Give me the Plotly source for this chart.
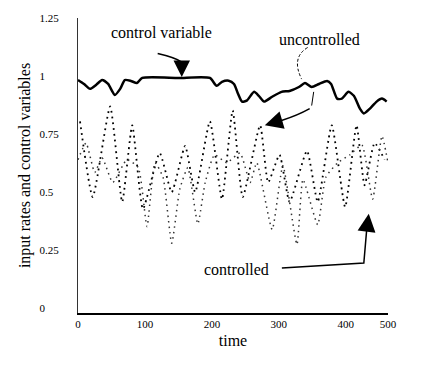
import plotly.graph_objects as go

# ---------------- data ----------------
control_t = [0, 9, 18, 27, 36, 45, 55, 63, 70, 79, 88, 96, 150, 197, 207, 215, 225, 233, 239,
             245, 252, 263, 270, 278, 290, 304, 316, 330, 339, 349, 360, 372, 378, 387, 394,
             404, 412, 421, 427, 436, 446, 454, 461]
control_v = [0.983, 0.966, 0.945, 0.962, 0.983, 0.966, 0.919, 0.945, 0.983, 0.979, 0.970, 0.992,
             0.992, 0.992, 0.958, 0.975, 0.980, 0.966, 0.924, 0.890, 0.894, 0.932, 0.915, 0.890,
             0.911, 0.932, 0.936, 0.953, 0.970, 0.953, 0.966, 0.979, 0.966, 0.903, 0.903, 0.932,
             0.915, 0.860, 0.839, 0.860, 0.890, 0.903, 0.890]

uncontrolled_t = [3, 22, 48, 66, 81, 97, 122, 140, 160, 175, 197, 215, 231, 246, 272, 284, 301,
                  316, 342, 358, 379, 399, 416, 428, 443, 458]
uncontrolled_v = [0.805, 0.479, 0.869, 0.458, 0.788, 0.428, 0.669, 0.500, 0.699, 0.500, 0.805,
                  0.470, 0.852, 0.479, 0.788, 0.542, 0.661, 0.458, 0.678, 0.458, 0.788, 0.436,
                  0.788, 0.530, 0.712, 0.640]

controlled_t = [0, 12, 25, 36, 52, 73, 90, 103, 115, 127, 140, 152, 164, 179, 190, 204, 222, 242,
                257, 267, 290, 306, 327, 336, 358, 370, 388, 406, 424, 440, 454, 463]
controlled_v = [0.640, 0.712, 0.585, 0.648, 0.542, 0.640, 0.606, 0.352, 0.627, 0.564, 0.280,
                0.513, 0.606, 0.364, 0.542, 0.661, 0.627, 0.669, 0.542, 0.627, 0.339, 0.614,
                0.275, 0.555, 0.360, 0.564, 0.627, 0.661, 0.703, 0.470, 0.742, 0.627]

x_tick_positions = [0, 100, 200, 300, 400, 463]
x_tick_labels = ["0", "100", "200", "300", "400", "500"]
y_tick_values = [0, 0.25, 0.5, 0.75, 1, 1.25]
y_tick_labels = ["0\u2008\u2007\u2007", "0.25", "0.5\u2007", "0.75", "1\u2008\u2007\u2007", "1.25"]

SERIF = "Liberation Serif"

fig = go.Figure()
fig.add_trace(go.Scatter(x=uncontrolled_t, y=uncontrolled_v, mode="lines", name="uncontrolled",
                         line=dict(color="black", width=1.8, dash="1.8px,4px",
                                   shape="spline", smoothing=0.5)))
fig.add_trace(go.Scatter(x=controlled_t, y=controlled_v, mode="lines", name="controlled",
                         line=dict(color="#333", width=1.5, dash="1.5px,4px",
                                   shape="spline", smoothing=0.5)))
fig.add_trace(go.Scatter(x=control_t, y=control_v, mode="lines", name="control variable",
                         line=dict(color="black", width=2.5, shape="spline", smoothing=0.6)))

# labels
fig.add_annotation(x=124, y=1.186, text="control variable", showarrow=False,
                   font=dict(family=SERIF, size=16, color="black"))
fig.add_annotation(x=361, y=1.157, text="uncontrolled", showarrow=False,
                   font=dict(family=SERIF, size=16, color="black"))
fig.add_annotation(x=236, y=0.169, text="controlled", showarrow=False,
                   font=dict(family=SERIF, size=16, color="black"))

# control variable arrow
fig.add_shape(type="path", path="M 119,1.097 Q 145,1.080 155,1.06",
              line=dict(color="black", width=1.5))
fig.add_annotation(x=155, y=0.996, ax=0, ay=-16, text="", showarrow=True,
                   arrowhead=2, arrowsize=2.2, arrowwidth=1.5, arrowcolor="black")

# uncontrolled leader + arrow
fig.add_shape(type="path", path="M 343,1.123 Q 318,1.08 334,0.987",
              line=dict(color="black", width=1, dash="3px,2px"))
fig.add_shape(type="path", path="M 352,0.932 L 349,0.873",
              line=dict(color="black", width=1))
fig.add_shape(type="path", path="M 346,0.860 Q 328,0.831 304,0.809",
              line=dict(color="black", width=1.5))
fig.add_annotation(x=279, y=0.788, ax=17, ay=-5, text="", showarrow=True,
                   arrowhead=2, arrowsize=2.4, arrowwidth=1.5, arrowcolor="black")

# controlled arrow
fig.add_shape(type="path", path="M 304.5,0.174 L 426.9,0.195 L 431.3,0.343",
              line=dict(color="black", width=1.5))
fig.add_annotation(x=434.3, y=0.407, ax=-2, ay=16, text="", showarrow=True,
                   arrowhead=2, arrowsize=2.4, arrowwidth=1.5, arrowcolor="black")

fig.update_layout(
    width=424, height=377,
    margin=dict(l=78, r=36, t=13, b=64),
    paper_bgcolor="white", plot_bgcolor="white",
    showlegend=False,
    font=dict(family=SERIF, color="black"),
    xaxis=dict(range=[0, 463], showline=True, linecolor="black", linewidth=1.5,
               showgrid=False, zeroline=False, ticks="",
               tickvals=x_tick_positions, ticktext=x_tick_labels,
               tickfont=dict(family=SERIF, size=11, color="black"),
               title=dict(text="time", font=dict(family=SERIF, size=16, color="black"),
                          standoff=6)),
    yaxis=dict(range=[-0.02, 1.25], showline=True, linecolor="#333", linewidth=1,
               showgrid=False, zeroline=False, ticks="",
               tickvals=y_tick_values, ticktext=y_tick_labels,
               tickfont=dict(family=SERIF, size=11, color="black"),
               ticklabelstandoff=16,
               title=dict(text="input rates and control variables",
                          font=dict(family=SERIF, size=16, color="black"), standoff=4)),
)

fig.write_html("out.html")
